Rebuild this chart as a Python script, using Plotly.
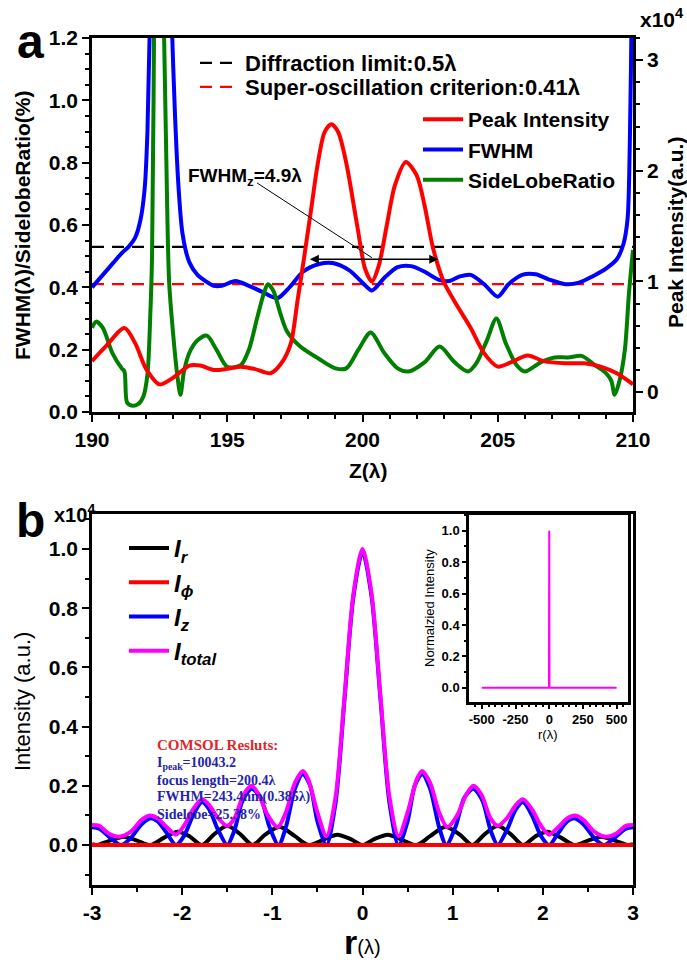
import plotly.graph_objects as go

W, H = 687, 970


def px(x):
    return x / W


def py(y):
    return 1 - y / H


# ---------------- panel a data ----------------
z_span = [190, 210]
diff_limit = [0.53, 0.53]
so_crit = [0.41, 0.41]

z_fwhm = [190.0, 190.4, 190.8, 191.1, 191.35, 191.6, 191.8, 191.95, 192.05, 192.15, 192.5, 192.85,
          192.95, 193.07, 193.2, 193.35, 193.6, 193.9, 194.2, 194.5, 194.8, 195.3, 195.8, 196.3,
          196.85, 197.3, 197.8, 198.4, 198.9, 199.5, 200.0, 200.35, 200.8, 201.3, 201.8, 202.3,
          202.8, 203.2, 203.6, 204.0, 204.5, 205.0, 205.4, 205.9, 206.4, 206.9, 207.5, 208.0,
          208.5, 209.0, 209.4, 209.65, 209.8, 209.88, 209.95, 210.0]
fwhm = [0.40, 0.44, 0.48, 0.51, 0.53, 0.56, 0.62, 0.72, 0.90, 1.30, 3.50, 1.60,
        1.25, 0.95, 0.72, 0.57, 0.48, 0.44, 0.42, 0.405, 0.405, 0.42, 0.405, 0.385,
        0.365, 0.40, 0.45, 0.475, 0.478, 0.455, 0.415, 0.39, 0.43, 0.465, 0.468, 0.45,
        0.425, 0.42, 0.435, 0.44, 0.41, 0.37, 0.41, 0.44, 0.442, 0.425, 0.41, 0.415,
        0.435, 0.46, 0.49, 0.54, 0.62, 0.85, 1.30, 2.00]

z_slr = [190.0, 190.15, 190.4, 190.75, 191.1, 191.2, 191.3, 191.5, 191.7, 191.9, 192.05, 192.15,
         192.22, 192.3, 192.45, 192.65, 192.75, 192.85, 193.0, 193.15, 193.27, 193.4, 193.6,
         193.9, 194.25, 194.6, 195.0, 195.5, 195.8, 196.1, 196.35, 196.5, 196.7, 196.95, 197.2,
         197.7, 198.4, 199.0, 199.4, 199.85, 200.3, 200.8, 201.3, 201.7, 202.3, 202.85, 203.4,
         203.9, 204.2, 204.6, 204.95, 205.3, 205.7, 206.0, 206.6, 207.1, 207.6, 208.1, 208.6,
         209.0, 209.2, 209.32, 209.5, 209.7, 209.85, 210.0]
slr = [0.27, 0.29, 0.27, 0.19, 0.14, 0.13, 0.03, 0.02, 0.025, 0.05, 0.12, 0.30,
       0.50, 1.30, 3.50, 1.30, 0.80, 0.42, 0.25, 0.12, 0.055, 0.13, 0.19,
       0.23, 0.245, 0.20, 0.145, 0.15, 0.20, 0.30, 0.38, 0.41, 0.39, 0.32, 0.26,
       0.21, 0.17, 0.14, 0.14, 0.20, 0.255, 0.19, 0.14, 0.13, 0.16, 0.21, 0.16,
       0.13, 0.155, 0.23, 0.30, 0.22, 0.15, 0.13, 0.16, 0.175, 0.175, 0.18, 0.15,
       0.125, 0.10, 0.055, 0.10, 0.20, 0.38, 0.52]

z_peak = [190.0, 190.5, 191.2, 191.6, 192.0, 192.5, 193.0, 193.6, 194.0, 194.5, 195.0, 195.5,
          196.0, 196.6, 197.0, 197.35, 197.6, 197.85, 198.1, 198.35, 198.6, 198.85, 199.1, 199.4,
          199.8, 200.1, 200.35, 200.6, 200.9, 201.2, 201.6, 202.0, 202.3, 202.6, 203.0, 203.5,
          204.0, 204.5, 205.0, 205.5, 206.1, 206.7, 207.5, 208.2, 208.8, 209.4, 210.0]
peak = [0.28, 0.41, 0.58, 0.44, 0.21, 0.07, 0.13, 0.24, 0.24, 0.20, 0.21, 0.23,
        0.21, 0.17, 0.26, 0.44, 0.83, 1.23, 1.65, 2.07, 2.35, 2.42, 2.35, 2.07,
        1.51, 1.11, 1.00, 1.14, 1.51, 1.87, 2.08, 1.96, 1.68, 1.31, 1.00, 0.78,
        0.58, 0.35, 0.23, 0.27, 0.33, 0.28, 0.26, 0.26, 0.23, 0.17, 0.07]

# ---------------- panel b data (x10^4) ----------------
r_total = [-3.0, -2.92, -2.82, -2.7, -2.57, -2.45, -2.36, -2.27, -2.17, -2.07, -1.98, -1.88, -1.78,
           -1.7, -1.6, -1.5, -1.42, -1.32, -1.23, -1.15, -1.05, -0.94, -0.85, -0.75, -0.66, -0.6,
           -0.5, -0.4, -0.3, -0.2, -0.1, 0.0, 0.1, 0.2, 0.3, 0.4, 0.5, 0.6, 0.66, 0.75, 0.85, 0.94,
           1.05, 1.15, 1.23, 1.32, 1.42, 1.5, 1.6, 1.7, 1.78, 1.88, 1.98, 2.07, 2.17, 2.27, 2.36,
           2.45, 2.57, 2.7, 2.82, 2.92, 3.0]
i_total = [0.068, 0.065, 0.04, 0.028, 0.045, 0.085, 0.10, 0.09, 0.06, 0.035, 0.065, 0.12, 0.155,
           0.135, 0.09, 0.065, 0.09, 0.17, 0.20, 0.17, 0.10, 0.06, 0.11, 0.21, 0.25, 0.22,
           0.11, 0.03, 0.16, 0.50, 0.85, 1.00, 0.85, 0.50, 0.16, 0.03, 0.11, 0.22, 0.25, 0.21, 0.11,
           0.06, 0.10, 0.17, 0.20, 0.17, 0.09, 0.065, 0.09, 0.135, 0.155, 0.12, 0.065, 0.035, 0.06,
           0.09, 0.10, 0.085, 0.045, 0.028, 0.04, 0.065, 0.068]

r_z = [-3.0, -2.92, -2.8, -2.68, -2.58, -2.45, -2.35, -2.27, -2.17, -2.07, -1.98, -1.88, -1.78,
       -1.7, -1.6, -1.5, -1.42, -1.33, -1.23, -1.13, -1.03, -0.93, -0.85, -0.75, -0.66, -0.58,
       -0.5, -0.4, -0.3, -0.2, -0.1, 0.0, 0.1, 0.2, 0.3, 0.4, 0.5, 0.58, 0.66, 0.75, 0.85, 0.93,
       1.03, 1.13, 1.23, 1.33, 1.42, 1.5, 1.6, 1.7, 1.78, 1.88, 1.98, 2.07, 2.17, 2.27, 2.35,
       2.45, 2.58, 2.68, 2.8, 2.92, 3.0]
i_z = [0.06, 0.055, 0.025, 0.0, 0.02, 0.07, 0.09, 0.08, 0.04, 0.0, 0.03, 0.10, 0.145,
       0.12, 0.05, 0.0, 0.05, 0.15, 0.19, 0.16, 0.06, 0.0, 0.06, 0.19, 0.24, 0.20,
       0.08, 0.0, 0.14, 0.49, 0.84, 0.99, 0.84, 0.49, 0.14, 0.0, 0.08, 0.20, 0.24, 0.19, 0.06,
       0.0, 0.06, 0.16, 0.19, 0.15, 0.05, 0.0, 0.05, 0.12, 0.145, 0.10, 0.03, 0.0, 0.04,
       0.08, 0.09, 0.07, 0.02, 0.0, 0.025, 0.055, 0.06]

r_r = [-3.0, -2.95, -2.8, -2.65, -2.5, -2.35, -2.2, -2.05, -1.92, -1.78, -1.65, -1.5, -1.35,
       -1.22, -1.08, -0.92, -0.75, -0.6, -0.42, -0.28, -0.13, 0.0, 0.13, 0.28, 0.42, 0.6, 0.75,
       0.92, 1.08, 1.22, 1.35, 1.5, 1.65, 1.78, 1.92, 2.05, 2.2, 2.35, 2.5, 2.65, 2.8, 2.95, 3.0]
i_r = [0.003, 0.0, 0.015, 0.028, 0.015, 0.0, 0.025, 0.045, 0.03, 0.0, 0.035, 0.065, 0.035,
       0.0, 0.035, 0.062, 0.03, 0.0, 0.02, 0.035, 0.02, 0.0, 0.02, 0.035, 0.02, 0.0, 0.03,
       0.062, 0.035, 0.0, 0.035, 0.065, 0.035, 0.0, 0.03, 0.045, 0.025, 0.0, 0.015, 0.028,
       0.015, 0.0, 0.003]

r_phi = [-3, -2, -1, 0, 1, 2, 3]
i_phi = [0, 0, 0, 0, 0, 0, 0]

# inset (normalized)
r_inset = [-500, -2, 0, 2, 500]
i_inset = [0.0, 0.0, 1.0, 0.0, 0.0]

# tick labels
xa_ticks = [190, 195, 200, 205, 210]
ya_ticks = [0.0, 0.2, 0.4, 0.6, 0.8, 1.0, 1.2]
ya2_ticks = [0, 1, 2, 3]
xb_ticks = [-3, -2, -1, 0, 1, 2, 3]
xb_text = ["-3", "-2", "-1", "0", "1", "2", "3"]
yb_ticks = [0.0, 0.2, 0.4, 0.6, 0.8, 1.0]
xi_ticks = [-500, -250, 0, 250, 500]
xi_text = ["-500", "-250", "0", "250", "500"]
yi_ticks = [0.0, 0.2, 0.4, 0.6, 0.8, 1.0]

FONT = "Liberation Sans, Arial, sans-serif"
SERIF = "Liberation Serif, Times New Roman, serif"
LW = 4
SM = 0.8

fig = go.Figure()

# ----- panel a -----
fig.add_trace(go.Scatter(x=z_span, y=diff_limit, mode="lines", name="Diffraction limit:0.5λ",
                         line=dict(color="black", width=2.2, dash="12px,8px"),
                         xaxis="x", yaxis="y", legend="legend"))
fig.add_trace(go.Scatter(x=z_span, y=so_crit, mode="lines", name="Super-oscillation criterion:0.41λ",
                         line=dict(color="#ff0000", width=2.2, dash="12px,8px"),
                         xaxis="x", yaxis="y", legend="legend2"))
fig.add_trace(go.Scatter(x=z_fwhm, y=fwhm, mode="lines", name="FWHM",
                         line=dict(color="#0000ff", width=LW, shape="spline", smoothing=SM),
                         xaxis="x", yaxis="y", legend="legend3", legendrank=2))
fig.add_trace(go.Scatter(x=z_slr, y=slr, mode="lines", name="SideLobeRatio",
                         line=dict(color="#007f00", width=LW, shape="spline", smoothing=SM),
                         xaxis="x", yaxis="y", legend="legend3", legendrank=3))
fig.add_trace(go.Scatter(x=z_peak, y=peak, mode="lines", name="Peak Intensity",
                         line=dict(color="#ff0000", width=LW, shape="spline", smoothing=SM),
                         xaxis="x", yaxis="y2", legend="legend3", legendrank=1))

# ----- panel b -----
fig.add_trace(go.Scatter(x=r_r, y=i_r, mode="lines", name="<i>I</i><sub><i>r</i></sub>",
                         line=dict(color="black", width=LW, shape="spline", smoothing=SM),
                         xaxis="x2", yaxis="y3", legend="legend4", legendrank=1))
fig.add_trace(go.Scatter(x=r_z, y=i_z, mode="lines", name="<i>I</i><sub><i>z</i></sub>",
                         line=dict(color="#0000ff", width=LW, shape="spline", smoothing=SM),
                         xaxis="x2", yaxis="y3", legend="legend4", legendrank=3))
fig.add_trace(go.Scatter(x=r_total, y=i_total, mode="lines", name="<i>I</i><sub><i>total</i></sub>",
                         line=dict(color="#ff00ff", width=LW, shape="spline", smoothing=SM),
                         xaxis="x2", yaxis="y3", legend="legend4", legendrank=4))
fig.add_trace(go.Scatter(x=r_phi, y=i_phi, mode="lines", name="<i>I</i><sub><i>ϕ</i></sub>",
                         line=dict(color="#ff0000", width=LW),
                         xaxis="x2", yaxis="y3", legend="legend4", legendrank=2))

# ----- inset -----
fig.add_trace(go.Scatter(x=r_inset, y=i_inset, mode="lines", showlegend=False,
                         line=dict(color="#ff00ff", width=2),
                         xaxis="x3", yaxis="y4"))

tf = dict(family=FONT, size=21, color="black", weight="bold")
common = dict(showline=True, linecolor="black", linewidth=2.5, ticks="outside", ticklen=7,
              tickwidth=2, tickcolor="black", showgrid=False, zeroline=False, tickfont=tf,
              automargin=False)
inset_common = dict(mirror=True, showline=True, linecolor="black", linewidth=2.5,
                    ticks="outside", ticklen=4, tickwidth=1.5, tickcolor="black", showgrid=False,
                    zeroline=False, automargin=False, tickangle=0,
                    tickfont=dict(family=FONT, size=13, color="black", weight="bold"))


def leg(x, y, size=22):
    return dict(x=px(x), y=py(y), xanchor="left", yanchor="top", bgcolor="rgba(0,0,0,0)",
                font=dict(family=FONT, size=size, color="black", weight="bold"), itemwidth=40,
                tracegroupgap=0)


fig.update_layout(
    width=W, height=H, margin=dict(l=0, r=0, t=0, b=0, autoexpand=False),
    paper_bgcolor="white", plot_bgcolor="white",
    xaxis=dict(domain=[px(92), px(633)], range=[190, 210], anchor="y", tickvals=xa_ticks,
               mirror=True, minor=dict(dtick=1, ticklen=4, tickwidth=2, ticks="outside"), **common),
    yaxis=dict(domain=[py(412), py(38)], range=[0, 1.2], anchor="x", tickvals=ya_ticks,
               tickformat=".1f", minor=dict(dtick=0.05, ticklen=4, tickwidth=2, ticks="outside"),
               **common),
    yaxis2=dict(domain=[py(412), py(38)], range=[-0.18, 3.2], anchor="x", overlaying="y",
                side="right", tickvals=ya2_ticks,
                minor=dict(dtick=0.2, ticklen=4, tickwidth=2, ticks="outside"), **common),
    xaxis2=dict(domain=[px(92), px(633)], range=[-3, 3], anchor="y3", tickvals=xb_ticks,
                ticktext=xb_text, mirror=True,
                minor=dict(dtick=0.5, ticklen=4, tickwidth=2, ticks="outside"), **common),
    yaxis3=dict(domain=[py(885), py(514)], range=[-0.135, 1.118], anchor="x2", tickvals=yb_ticks,
                tickformat=".1f", mirror=True,
                minor=dict(dtick=0.1, ticklen=4, tickwidth=2, ticks="outside"), **common),
    xaxis3=dict(domain=[px(469), px(628)], range=[-595, 584], anchor="y4", tickvals=xi_ticks,
                ticktext=xi_text,
                minor=dict(dtick=50, ticklen=2, tickwidth=1.5, ticks="outside"), **inset_common),
    yaxis4=dict(domain=[py(702), py(515)], range=[-0.09, 1.10], anchor="x3", tickvals=yi_ticks,
                tickformat=".1f",
                minor=dict(dtick=0.1, ticklen=2, tickwidth=1.5, ticks="outside"), **inset_common),
    legend=leg(195, 42),
    legend2=leg(195, 66),
    legend3=leg(418, 99, size=21),
    legend4=leg(124, 526, size=24),
)

ann = []


def A(text, x, y, size=20, bold=True, angle=0, color="black", family=FONT, xanchor="center",
      yanchor="middle"):
    ann.append(dict(text=text, x=px(x), y=py(y), xref="paper", yref="paper", showarrow=False,
                    textangle=angle, xanchor=xanchor, yanchor=yanchor,
                    font=dict(family=family, size=size, color=color,
                              weight="bold" if bold else "normal")))


A("a", 30, 42, size=48)
A("b", 30, 520, size=48)
A("x10<sup>4</sup>", 662, 18, size=21)
A("x10<sup>4</sup>", 74, 513, size=20)
A("FWHM(λ)/SidelobeRatio(%)", 22, 226, size=21, angle=-90)
A("Peak Intensity(a.u.)", 675, 233, size=21, angle=-90)
A("Z(λ)", 368, 470, size=21)
A("Intensity (a.u.)", 22, 702, size=22, bold=False, angle=-90)
A("<b><span style='font-size:34px'>r</span></b>(λ)", 362, 942, size=20, bold=False)
A("Normalzied Intensity", 429, 608, size=13, bold=False, angle=-90)
A("r(λ)", 548, 734, size=13, bold=False)
A("FWHM<sub>z</sub>=4.9λ", 245, 177, size=19)

A("COMSOL Resluts:", 155, 745, size=15, color="#e3262b", family=SERIF, xanchor="left")
A("I<sub>peak</sub>=10043.2", 155, 763, size=14, color="#2424a8", family=SERIF, xanchor="left")
A("focus length=200.4λ", 155, 780, size=14, color="#2424a8", family=SERIF, xanchor="left")
A("FWHM=243.4nm(0.385λ)", 155, 797, size=14, color="#2424a8", family=SERIF, xanchor="left")
A("Sidelobe=25.38%", 155, 814, size=14, color="#2424a8", family=SERIF, xanchor="left")

# double arrow for FWHM_z
ann.append(dict(x=202.8, y=0.49, ax=198.0, ay=0.49, xref="x", yref="y", axref="x", ayref="y",
                text="", showarrow=True, arrowside="end+start", arrowhead=2, arrowsize=1.2,
                arrowwidth=1.5, arrowcolor="black"))

fig.update_layout(annotations=ann)
fig.add_shape(type="line", xref="x", yref="y", x0=196.1, y0=0.735, x1=200.35, y1=0.495,
              line=dict(color="black", width=1))

fig.write_html("out.html")
